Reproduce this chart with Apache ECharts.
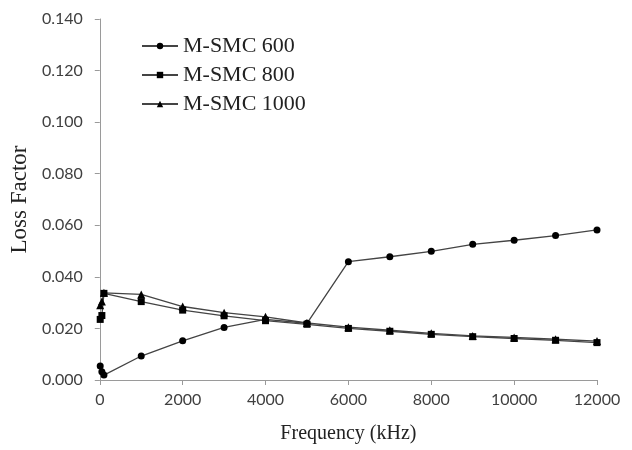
<!DOCTYPE html>
<html>
<head>
<meta charset="utf-8">
<script src="https://cdn.jsdelivr.net/npm/echarts@6/dist/echarts.min.js"></script>
<style>
  html, body { margin: 0; padding: 0; background: #fff; }
  #chart { width: 632px; height: 450px; }
</style>
</head>
<body>
<div id="chart"></div>
<script>
// frequency points (kHz)
const freqs = [10, 50, 100, 1000, 2000, 3000, 4000, 5000, 6000, 7000, 8000, 9000, 10000, 11000, 12000];

// loss factor per sample
const smc600 = [0.0054, 0.0032, 0.0019, 0.0093, 0.0152, 0.0204, 0.0235, 0.0220, 0.0459, 0.0478, 0.0499, 0.0526, 0.0542, 0.0560, 0.0582];
const smc800 = [0.0235, 0.0250, 0.0336, 0.0304, 0.0271, 0.0249, 0.0230, 0.0216, 0.0200, 0.0189, 0.0177, 0.0168, 0.0161, 0.0154, 0.0145];
const smc1000 = [0.0290, 0.0304, 0.0338, 0.0332, 0.0285, 0.0261, 0.0245, 0.0221, 0.0205, 0.0193, 0.0181, 0.0171, 0.0165, 0.0158, 0.0151];

const names = ['M-SMC 600', 'M-SMC 800', 'M-SMC 1000'];
const symbols = ['circle', 'rect', 'triangle'];
const sizes = [7, 7, 8];

const pair = (ys) => freqs.map((f, i) => [f, ys[i]]);
const allData = [smc600, smc800, smc1000];

const chart = echarts.init(document.getElementById('chart'));

const option = {
    animation: false,
    backgroundColor: '#fff',
    grid: { left: 98, right: 35, top: 19, bottom: 70 },
    legend: {
        orient: 'vertical',
        left: 136,
        top: 30,
        itemWidth: 36,
        itemHeight: 8,
        itemGap: 7,
        textStyle: { fontFamily: 'Liberation Serif', fontSize: 22, color: '#222' },
        data: names
    },
    xAxis: {
        type: 'value',
        min: 0,
        max: 12000,
        interval: 2000,
        name: 'Frequency (kHz)',
        nameLocation: 'middle',
        nameGap: 44,
        nameTextStyle: { fontFamily: 'Liberation Serif', fontSize: 20, color: '#222' },
        axisLine: { lineStyle: { color: '#9a9a9a', width: 1 } },
        axisTick: { show: true, length: 5, lineStyle: { color: '#9a9a9a' } },
        axisLabel: {
            fontFamily: 'Lato', fontSize: 16, color: '#404040', margin: 12,
            formatter: (v) => String(v)
        },
        splitLine: { show: false }
    },
    yAxis: {
        type: 'value',
        min: 0,
        max: 0.14,
        interval: 0.02,
        name: 'Loss Factor',
        nameLocation: 'middle',
        nameGap: 62,
        nameTextStyle: { fontFamily: 'Liberation Serif', fontSize: 23, color: '#222' },
        axisLine: { show: true, lineStyle: { color: '#9a9a9a', width: 1 } },
        axisTick: { show: true, length: 5, lineStyle: { color: '#9a9a9a' } },
        axisLabel: {
            fontFamily: 'Lato', fontSize: 16, color: '#404040', margin: 17,
            formatter: (v) => v.toFixed(3)
        },
        splitLine: { show: false }
    },
    series: names.map((name, k) => ({
        name: name,
        type: 'line',
        data: pair(allData[k]),
        symbol: symbols[k],
        symbolSize: sizes[k],
        lineStyle: { color: '#444', width: 1.3 },
        itemStyle: { color: '#000', borderWidth: 0 }
    }))
};

chart.setOption(option);
</script>
</body>
</html>
